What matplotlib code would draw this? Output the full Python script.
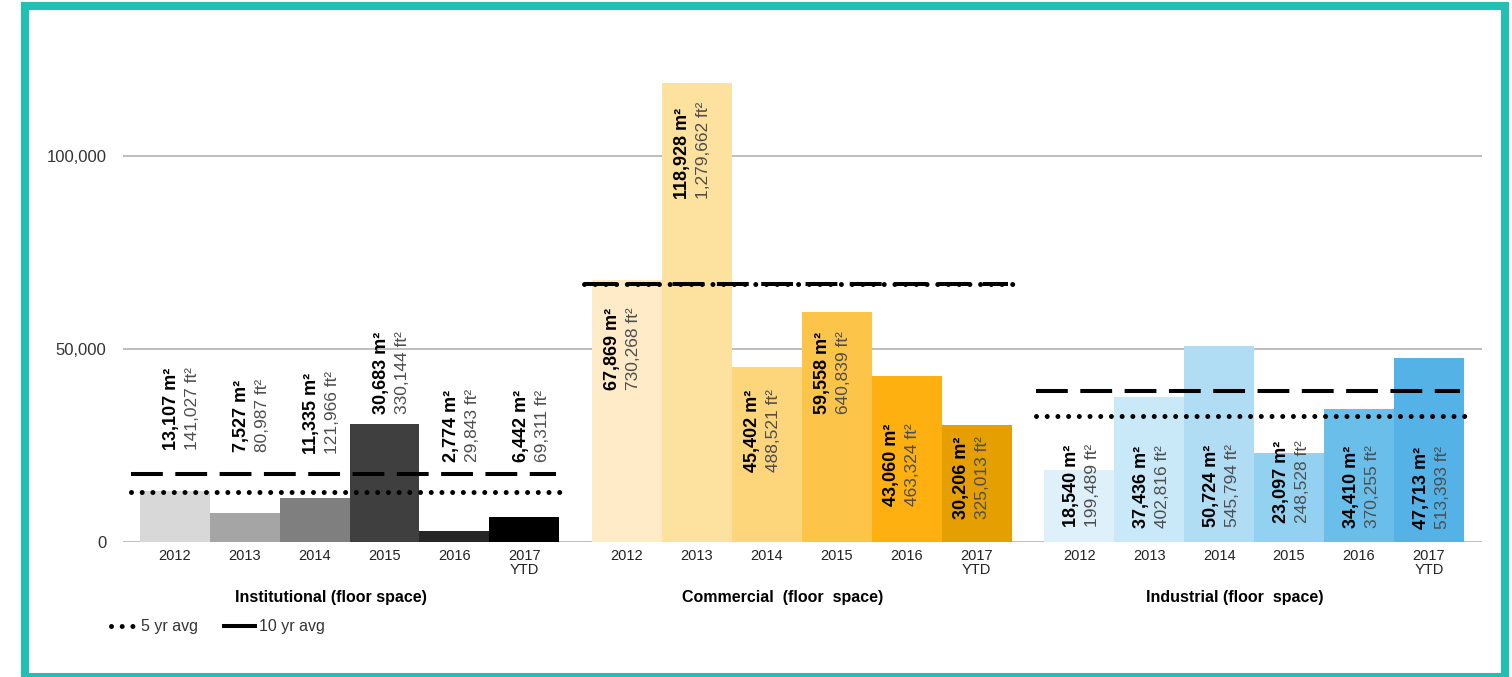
import numpy as np
import matplotlib
matplotlib.use('Agg')
import matplotlib.pyplot as plt
from matplotlib.lines import Line2D
from matplotlib.patches import Rectangle

plt.rcParams['font.family'] = ['Liberation Sans', 'DejaVu Sans']

# Data
years = ['2012', '2013', '2014', '2015', '2016', '2017\nYTD']
groups = ['Institutional (floor space)', 'Commercial  (floor  space)', 'Industrial (floor  space)']
institutional_m2 = [13107, 7527, 11335, 30683, 2774, 6442]
institutional_ft2 = [141027, 80987, 121966, 330144, 29843, 69311]
commercial_m2 = [67869, 118928, 45402, 59558, 43060, 30206]
commercial_ft2 = [730268, 1279662, 488521, 640839, 463324, 325013]
industrial_m2 = [18540, 37436, 50724, 23097, 34410, 47713]
industrial_ft2 = [199489, 402816, 545794, 248528, 370255, 513393]
avg_5yr = [12900, 66800, 32700]
avg_10yr = [17500, 66900, 39100]

# Layout: where the rotated value labels start (data units)
label_y = [
    [23800, 23300, 22800, 33200, 20700, 20700],
    [39400, 88900, 18100, 33200, 9300, 6000],
    [3900, 3600, 3900, 4900, 3600, 3400],
]
label_shift = [-0.04, -0.21, -0.11]

colors = [
    ['#D8D8D8', '#A5A5A5', '#7F7F7F', '#3F3F3F', '#262626', '#000000'],
    ['#FFEBC8', '#FDE19F', '#FDD57B', '#FCC54A', '#FDB00F', '#E5A000'],
    ['#DEF0FA', '#C9E8F8', '#B0DDF4', '#93D1F0', '#6ABFEA', '#55B2E6'],
]

m2 = [institutional_m2, commercial_m2, industrial_m2]
ft2 = [institutional_ft2, commercial_ft2, industrial_ft2]

W, H = 1512, 677
fig = plt.figure(figsize=(W / 100, H / 100), dpi=100)
ax = fig.add_axes([123 / W, 135 / H, (1482 - 123) / W, (542 - 59.5) / H])

dot_style = dict(color='black', lw=3.6, linestyle=(0, (0.001, 2.14)), dash_capstyle='round')
dash_style = dict(color='black', lw=2.9, linestyle=(0, (7.9, 3.1)), dash_capstyle='butt')

spacing = 6.47
x_ticks, x_labels = [], []
for g in range(3):
    x = g * spacing + np.arange(len(years))
    ax.bar(x, m2[g], width=1.0, color=colors[g], linewidth=0, zorder=2)
    x_ticks += list(x)
    x_labels += years

    left, right = x[0] - 0.5, x[-1] + 0.5
    ax.plot([left - 0.12, right - 0.05], [avg_10yr[g]] * 2, zorder=3, **dash_style)
    ax.plot([left - 0.12, right + 0.09], [avg_5yr[g]] * 2, zorder=3, **dot_style)

    for j in range(len(years)):
        ax.text(x[j] + label_shift[g], label_y[g][j], f'{m2[g][j]:,} m²',
                rotation=90, ha='center', va='bottom', fontsize=13, fontweight='bold',
                color='black', zorder=4, clip_on=False)
        ax.text(x[j] + label_shift[g] + 0.30, label_y[g][j], f'{ft2[g][j]:,} ft²',
                rotation=90, ha='center', va='bottom', fontsize=12.5,
                color='#4D4D4D', zorder=4, clip_on=False)

    ax.text(g * spacing + 2.5 - 0.27, -14500, groups[g], ha='center', va='center',
            fontsize=11.5, fontweight='bold', color='black', clip_on=False)

ax.set_xlim(-0.74, 18.70)
ax.set_ylim(0, 125000)
ax.set_xticks(x_ticks)
ax.set_xticklabels(x_labels, fontsize=10.5, color='#222222', linespacing=1.0)
ax.set_yticks([0, 50000, 100000])
ax.set_yticklabels(['0', '50,000', '100,000'], fontsize=12, color='#333333')
ax.tick_params(axis='both', length=0)
ax.tick_params(axis='y', pad=12)
ax.tick_params(axis='x', pad=5)
ax.yaxis.grid(True, color='#ABABAB', lw=1.1)
ax.set_axisbelow(True)
for s in ax.spines.values():
    s.set_visible(False)

# Legend
fig.add_artist(Line2D([111 / W, 133 / W], [1 - 626 / H] * 2, **dot_style))
fig.text(141 / W, 1 - 626 / H, '5 yr avg', ha='left', va='center', fontsize=11.5, color='#333333')
fig.add_artist(Line2D([224 / W, 255 / W], [1 - 626 / H] * 2, color='black', lw=2.9))
fig.text(259 / W, 1 - 626 / H, '10 yr avg', ha='left', va='center', fontsize=11.5, color='#333333')

# Teal frame
fig.add_artist(Rectangle((25 / W, 0), 1480 / W, 1 - 6 / H, transform=fig.transFigure,
                         fill=False, edgecolor='#22BFB5', lw=5.8))

fig.savefig('out.png', dpi=100)
